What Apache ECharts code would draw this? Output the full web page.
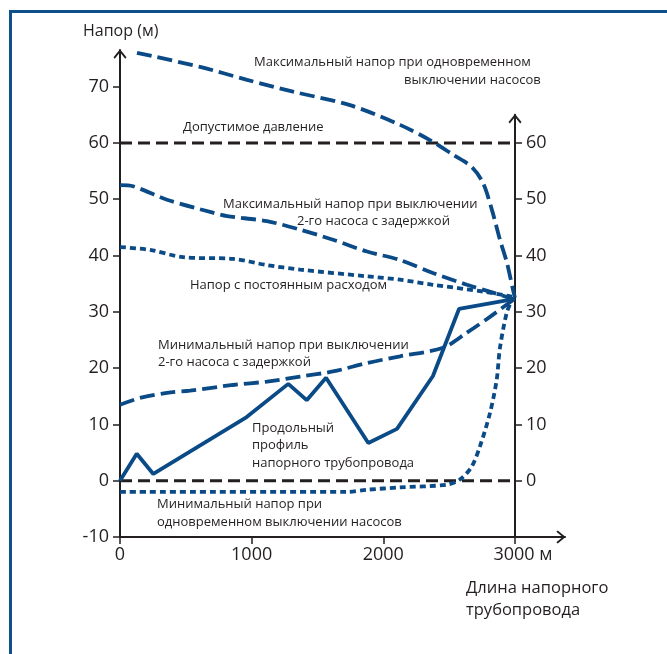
<!DOCTYPE html>
<html><head><meta charset="utf-8">
<script src="https://cdn.jsdelivr.net/npm/echarts@6/dist/echarts.min.js"></script>
<style>html,body{margin:0;padding:0;background:#fff}#c{width:667px;height:654px}</style>
</head><body><div id="c"></div>
<script>
// ---- data (distance in m, head in m) ----
const maxSimX = [129, 608, 965, 1314, 1747, 2127, 2354, 2529, 2673, 2757, 2825, 2886, 2939, 2985, 3000];
const maxSimY = [76.0, 73.5, 71.2, 69.1, 66.7, 63.2, 60.5, 57.9, 55.7, 52.9, 48.1, 42.8, 38.7, 33.9, 32.5];

const maxDelX = [0, 99, 357, 706, 813, 1116, 1367, 1618, 1876, 2127, 2377, 2635, 2833, 2985];
const maxDelY = [52.5, 52.3, 49.9, 47.6, 47.0, 46.1, 44.6, 42.8, 40.7, 39.2, 36.9, 34.8, 33.4, 32.3];

const constX = [0, 228, 478, 858, 1116, 1367, 1876, 2127, 2377, 2757, 2977];
const constY = [41.5, 41.0, 39.7, 39.4, 38.3, 37.5, 36.3, 35.7, 34.8, 33.6, 32.7];

const minDelX = [0, 152, 357, 532, 858, 1116, 1367, 1618, 1876, 2127, 2453, 2635, 2810, 2985];
const minDelY = [13.5, 14.7, 15.6, 16.0, 17.0, 17.6, 18.5, 19.4, 20.9, 22.1, 23.6, 26.3, 29.1, 32.1];

const profileX = [0, 127, 253, 962, 1278, 1418, 1565, 1886, 2104, 2377, 2575, 3000];
const profileY = [0, 4.8, 1.2, 11.3, 17.2, 14.3, 18.3, 6.7, 9.2, 18.6, 30.5, 32.3];

const minSimX = [0, 1722, 1876, 2127, 2484, 2582, 2671, 2734, 2810, 2861, 2886, 2937, 2977];
const minSimY = [-2.0, -2.0, -1.6, -1.2, -0.7, 0.2, 2.5, 6.1, 12.0, 17.9, 23.6, 29.8, 32.1];

const limitLevels = [60, 0];       // допустимое давление, нулевой уровень
const limitSpan = [0, 3000];

const xTicks = [0, 1000, 2000, 3000];
const yTicksLeft = [-10, 0, 10, 20, 30, 40, 50, 60, 70];
const yTicksRight = [0, 10, 20, 30, 40, 50, 60];

// ---- styling ----
const FONT = "'Open Sans', sans-serif";
const BLUE = '#0a4a86';
const INK = '#231f20';

const zip = (xs, ys) => xs.map((x, i) => [x, ys[i]]);

const blueLine = (name, xs, ys, dash, smooth) => ({
  name, type: 'line', xAxisIndex: 0, yAxisIndex: 0,
  data: zip(xs, ys), symbol: 'none', smooth: smooth,
  lineStyle: { color: BLUE, width: 3.8, type: dash, cap: 'butt' },
  z: 3, silent: true, animation: false
});

const series = [];
limitLevels.forEach((lv, i) => {
  series.push({
    name: 'limit' + i, type: 'line', xAxisIndex: 0, yAxisIndex: 0,
    data: limitSpan.map(x => [x, lv]), symbol: 'none',
    lineStyle: { color: INK, width: 3, type: [12, 6] }, z: 2, silent: true, animation: false
  });
});
series.push(blueLine('maxSim', maxSimX, maxSimY, [15, 6], 0.3));
series.push(blueLine('maxDel', maxDelX, maxDelY, [15, 6], 0.3));
series.push(blueLine('const', constX, constY, [6, 4], 0.3));
series.push(blueLine('minDel', minDelX, minDelY, [15, 6], 0.3));
series.push(blueLine('profile', profileX, profileY, 'solid', false));
series.push(blueLine('minSim', minSimX, minSimY, [6, 4], 0.3));

const txt = (x, y, text, size, align) => ({
  type: 'text', x, y, silent: true,
  style: { text, fill: INK, font: size + 'px ' + FONT, textAlign: align || 'left', textVerticalAlign: 'middle' }
});

const annoSize = 13;
const graphic = [
  { type: 'rect', shape: { x: 10.5, y: 11.5, width: 720, height: 720 }, style: { fill: null, stroke: '#0e4f8c', lineWidth: 3 }, silent: true },
  txt(83, 31, 'Напор (м)', 16),
  txt(254, 62, 'Максимальный напор при одновременном', annoSize),
  txt(404, 80, 'выключении насосов', annoSize),
  txt(183, 127, 'Допустимое давление', annoSize),
  txt(223, 204, 'Максимальный напор при выключении', annoSize),
  txt(297, 221, '2-го насоса с задержкой', annoSize),
  txt(190, 285, 'Напор с постоянным расходом', annoSize),
  txt(158, 345, 'Минимальный напор при выключении', annoSize),
  txt(158, 362, '2-го насоса с задержкой', annoSize),
  txt(252, 428, 'Продольный', annoSize),
  txt(252, 445, 'профиль', annoSize),
  txt(252, 463, 'напорного трубопровода', annoSize),
  txt(157, 504, 'Минимальный напор при', annoSize),
  txt(157, 522, 'одновременном выключении насосов', annoSize),
  txt(466, 588, 'Длина напорного', 16.5),
  txt(466, 610, 'трубопровода', 16.5)
];

const axisLineStyle = { color: INK, width: 2 };
const chevron = 'path://M0,0 L7,8.5 L5.6,10 L0,3.2 L-5.6,10 L-7,8.5 Z';
const axisLine = { show: true, onZero: false, lineStyle: axisLineStyle, symbol: ['none', chevron], symbolSize: [13, 11], symbolOffset: [0, -4] };

const chart = echarts.init(document.getElementById('c'), null, { renderer: 'canvas' });
chart.setOption({
  animation: false,
  backgroundColor: '#fff',
  textStyle: { fontFamily: FONT },
  grid: [
    { left: 120, right: 102, top: 50, bottom: 117, containLabel: false },
    { left: 120, right: 152, top: 537 - 75 * 487 / 86.5, bottom: 117, containLabel: false }
  ],
  xAxis: [
    {
      gridIndex: 0, type: 'value', min: 0, max: 3380, interval: 1000,
      axisLine: axisLine,
      axisTick: { show: true, length: 7, lineStyle: { color: INK, width: 1.5 }, customValues: xTicks },
      axisLabel: {
        customValues: xTicks, color: INK, fontSize: 18, fontFamily: FONT, margin: 9,
        formatter: v => v === 3000 ? '{p|}3000{m| м}' : String(v),
        rich: { p: { width: 16 }, m: { fontSize: 18, fontFamily: FONT, color: INK } }
      },
      splitLine: { show: false }
    },
    {
      gridIndex: 1, type: 'value', min: 0, max: 3000, show: false
    }
  ],
  yAxis: [
    {
      gridIndex: 0, type: 'value', min: -10, max: 76.5, interval: 10, position: 'left',
      axisLine: axisLine,
      axisTick: { show: true, length: 7, lineStyle: { color: INK, width: 1.5 }, customValues: yTicksLeft },
      axisLabel: { customValues: yTicksLeft, color: INK, fontSize: 18, fontFamily: FONT, margin: 11 },
      splitLine: { show: false }
    },
    {
      gridIndex: 1, type: 'value', min: -10, max: 65, interval: 10, position: 'right',
      axisLine: axisLine,
      axisTick: { show: true, length: 7, lineStyle: { color: INK, width: 1.5 }, customValues: yTicksRight },
      axisLabel: { customValues: yTicksRight, color: INK, fontSize: 18, fontFamily: FONT, margin: 11 },
      splitLine: { show: false }
    }
  ],
  series,
  graphic
});
</script>
</body></html>
